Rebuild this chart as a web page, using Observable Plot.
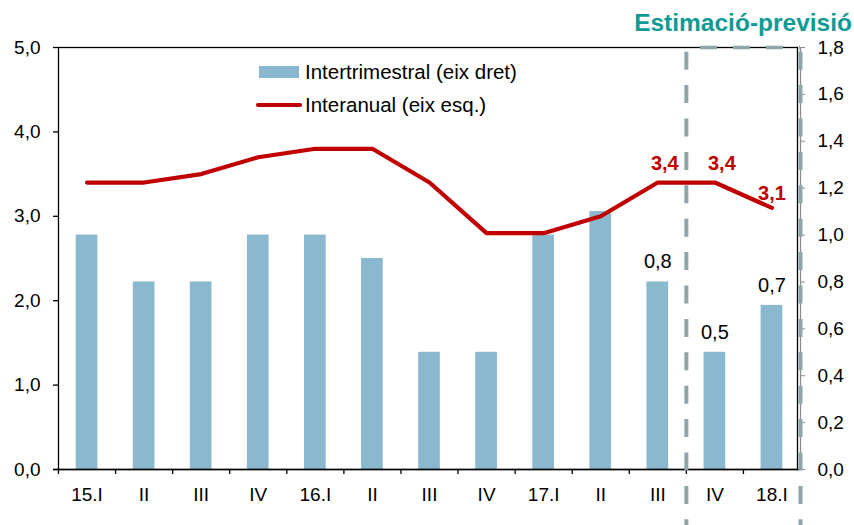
<!DOCTYPE html>
<html>
<head>
<meta charset="utf-8">
<script src="https://cdn.jsdelivr.net/npm/d3@7"></script>
<script src="https://cdn.jsdelivr.net/npm/@observablehq/plot@0.6"></script>
<style>
  body { margin: 0; background: #fff; }
  #wrap { position: relative; width: 854px; height: 525px; font-family: "Liberation Sans", Arial, sans-serif; }
  #overlay { position: absolute; left: 0; top: 0; pointer-events: none; }
</style>
</head>
<body>
<div id="wrap"></div>
<script>
// ---- data ----
const quarters = ["15.I", "II", "III", "IV", "16.I", "II", "III", "IV", "17.I", "II", "III", "IV", "18.I"];
const intertrimestral = [1.0, 0.8, 0.8, 1.0, 1.0, 0.9, 0.5, 0.5, 1.0, 1.1, 0.8, 0.5, 0.7]; // right axis
const interanual = [3.4, 3.4, 3.5, 3.7, 3.8, 3.8, 3.4, 2.8, 2.8, 3.0, 3.4, 3.4, 3.1];       // left axis
const leftTicks = [0, 1, 2, 3, 4, 5];
const rightTicks = [0, 0.2, 0.4, 0.6, 0.8, 1.0, 1.2, 1.4, 1.6, 1.8];
const forecastFrom = 11;   // first estimated quarter (17.IV)
const labelFrom = 10;      // first quarter with value labels (17.III)
const seriesNames = ["Intertrimestral (eix dret)", "Interanual (eix esq.)"];
const titleText = "Estimació-previsió";

// ---- styling ----
const barColor = "#8ab8cf";
const lineColor = "#c00000";
const dashColor = "#8ca6a9";
const titleColor = "#0f9b94";
const leftMax = leftTicks[leftTicks.length - 1];
const rightMax = rightTicks[rightTicks.length - 1];
const k = leftMax / rightMax;
const n = quarters.length;
const barHalf = 0.19;
const fmt = v => d3.format(".1f")(v).replace(".", ",");

const data = quarters.map((q, i) => ({i, label: q, qoq: intertrimestral[i], yoy: interanual[i]}));
const labelled = data.filter(d => d.i >= labelFrom);
const boundaries = d3.range(n + 1).map(i => i - 0.5);

const chart = Plot.plot({
  width: 854,
  height: 525,
  marginLeft: 58,
  marginRight: 54,
  marginTop: 47,
  marginBottom: 56,
  style: {fontFamily: "Liberation Sans, Arial, sans-serif", fontSize: "19px", color: "black", background: "white"},
  x: {type: "linear", domain: [-0.5, n - 0.5], label: null},
  y: {domain: [0, leftMax], label: null},
  marks: [
    Plot.rect(data, {x1: d => d.i - barHalf, x2: d => d.i + barHalf, y1: 0, y2: d => d.qoq * k, fill: barColor}),
    Plot.frame({stroke: "black", strokeWidth: 1.3, insetRight: 3}),
    Plot.ruleY([0], {insetLeft: -5, stroke: "black", strokeWidth: 1.3}),
    Plot.ruleX(boundaries.slice(0, n), {y1: 0, y2: 0, insetBottom: -5, stroke: "black", strokeWidth: 1.3}),
    Plot.axisY({anchor: "left", label: null, ticks: leftTicks, tickFormat: fmt, tickSize: 5, tickPadding: 13, fontSize: 19, stroke: "black", strokeWidth: 1.3}),
    Plot.axisY({anchor: "right", label: null, ticks: rightTicks.map(v => v * k), tickFormat: v => fmt(v / k), tickSize: 4, tickPadding: 13, fontSize: 19, stroke: "#8c8c8c", fill: "black"}),
    Plot.axisX({label: null, ticks: d3.range(n), tickFormat: i => quarters[i], tickSize: 0, tickPadding: 18, fontSize: 19, fill: "black"}),
    Plot.ruleX([n - 0.5], {y1: 0, y2: leftMax, stroke: "#8c8c8c", strokeWidth: 1.3}),
    Plot.ruleX([forecastFrom - 0.5, n - 0.5], {y1: leftMax, y2: 0, insetBottom: -56, stroke: dashColor, strokeWidth: 4, strokeDasharray: "18,15.4", strokeDashoffset: 28.7}),
    Plot.ruleY([leftMax], {x1: forecastFrom - 0.5, x2: n - 0.5, stroke: dashColor, strokeWidth: 3.5, strokeDasharray: "17,16", strokeDashoffset: 19}),
    Plot.line(data, {x: "i", y: "yoy", stroke: lineColor, strokeWidth: 4.2, strokeLinejoin: "round"}),
    Plot.text(labelled, {x: "i", y: d => d.qoq * k, text: d => fmt(d.qoq), dy: -20, fontSize: 20, fill: "black"}),
    Plot.text(labelled.slice(0, 2), {x: "i", y: "yoy", text: d => fmt(d.yoy), dy: -19, dx: 7, fontSize: 20, fontWeight: "bold", fill: lineColor}),
    Plot.text(labelled.slice(2), {x: "i", y: "yoy", text: d => fmt(d.yoy), dy: -14, fontSize: 20, fontWeight: "bold", fill: lineColor})
  ]
});

const wrap = document.getElementById("wrap");
wrap.appendChild(chart);

// title + legend overlay
const svg = d3.select(wrap).append("svg")
  .attr("id", "overlay")
  .attr("width", 854).attr("height", 525)
  .style("font-family", "Liberation Sans, Arial, sans-serif");

svg.append("text")
  .attr("x", 852).attr("y", 31)
  .attr("text-anchor", "end")
  .attr("font-size", 24.5).attr("font-weight", "bold")
  .attr("fill", titleColor)
  .text(titleText);

const lg = svg.append("g");
lg.append("rect").attr("x", 259).attr("y", 66).attr("width", 40).attr("height", 12).attr("fill", barColor);
lg.append("text").attr("x", 305).attr("y", 79).attr("font-size", 20.5).attr("fill", "black").text(seriesNames[0]);
lg.append("line").attr("x1", 258).attr("x2", 300).attr("y1", 105).attr("y2", 105)
  .attr("stroke", lineColor).attr("stroke-width", 4.2).attr("stroke-linecap", "round");
lg.append("text").attr("x", 305).attr("y", 112).attr("font-size", 20.5).attr("fill", "black").text(seriesNames[1]);
</script>
</body>
</html>
